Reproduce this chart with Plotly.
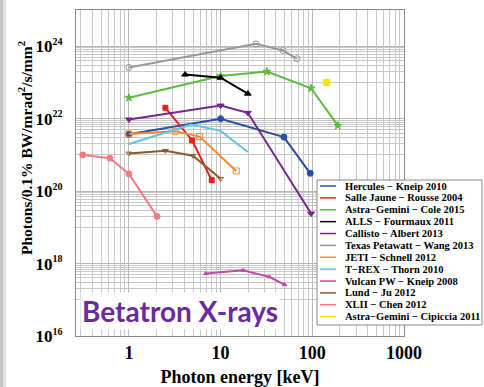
import plotly.graph_objects as go

# ---------------- data ----------------
names = [
    "Hercules \u2212 Kneip 2010",
    "Salle Jaune \u2212 Rousse 2004",
    "Astra\u2212Gemini \u2212 Cole 2015",
    "ALLS \u2212 Fourmaux 2011",
    "Callisto \u2212 Albert 2013",
    "Texas Petawatt \u2212 Wang 2013",
    "JETI \u2212 Schnell 2012",
    "T\u2212REX \u2212 Thorn 2010",
    "Vulcan PW \u2212 Kneip 2008",
    "Lund \u2212 Ju 2012",
    "XLII \u2212 Chen 2012",
    "Astra\u2212Gemini \u2212 Cipiccia 2011",
]
hercules_x = [1, 10, 49, 95]
hercules_y = [3.7e21, 1.0e22, 3.1e21, 3.1e20]
salle_x = [2.5, 4.9, 8.0]
salle_y = [2.0e22, 2.5e21, 2.0e20]
cole_x = [1, 10, 32, 97, 190]
cole_y = [3.8e22, 1.5e23, 2.0e23, 6.9e22, 6.4e21]
alls_x = [4.1, 10, 19.8]
alls_y = [1.65e23, 1.35e23, 4.9e22]
callisto_x = [1, 10, 19.8, 97]
callisto_y = [9.5e21, 2.3e22, 1.45e22, 2.4e19]
texas_x = [1, 24.4, 48, 68]
texas_y = [2.6e23, 1.16e24, 7.6e23, 4.5e23]
jeti_x = [1, 3.2, 5.9, 14.8]
jeti_y = [3.8e21, 4.5e21, 3.2e21, 3.6e20]
trex_x = [1, 4.8, 10, 19.8]
trex_y = [2.0e21, 6.9e21, 4.6e21, 1.2e21]
vulcan_x = [6.9, 17.5, 34, 50]
vulcan_y = [5.3e17, 6.5e17, 4.3e17, 2.6e17]
lund_x = [1, 2.5, 5.0, 10]
lund_y = [1.1e21, 1.3e21, 9.5e20, 2.2e20]
xlii_x = [0.314, 0.62, 1, 2.03]
xlii_y = [1.0e21, 8.1e20, 3.0e20, 2.0e19]
cipiccia_x = [144]
cipiccia_y = [1.0e23]

x_tickvals = [1, 10, 100, 1000]
x_ticktext = ["1", "10", "100", "1000"]
y_exps = [16, 18, 20, 22, 24]
x_title = "Photon energy [keV]"
y_title = "Photons/0.1% BW/mrad<sup>2</sup>/s/mm<sup>2</sup>"

# ---------------- styles ----------------
colors = ["#2b4ea3", "#ee1c1c", "#5dbb3f", "#000000", "#76278f", "#999999",
          "#f28a30", "#62c6dc", "#c04aa6", "#8a5a2c", "#f27b82", "#f5e600"]
symbols = ["circle", "square", "star", "triangle-up", "triangle-down", "circle-open",
           "square-open", "circle", "triangle-up", "triangle-down-open", "circle", "square"]
msizes = [6, 5, 6, 6, 6, 6, 6, 0, 4, 5, 6, 6]
series = [(hercules_x, hercules_y), (salle_x, salle_y), (cole_x, cole_y), (alls_x, alls_y),
          (callisto_x, callisto_y), (texas_x, texas_y), (jeti_x, jeti_y), (trex_x, trex_y),
          (vulcan_x, vulcan_y), (lund_x, lund_y), (xlii_x, xlii_y), (cipiccia_x, cipiccia_y)]

fig = go.Figure()
for (xs, ys), nm, c, s, ms in zip(series, names, colors, symbols, msizes):
    mode = "lines+markers" if len(xs) > 1 else "markers"
    if ms == 0:
        mode = "lines"
    fig.add_trace(go.Scatter(
        x=xs, y=ys, name=nm, mode=mode,
        line=dict(color=c, width=2),
        marker=dict(symbol=s, size=ms, color=c, line=dict(color=c, width=1)),
        showlegend=False))

# plot-area geometry (pixels)
W, H = 484, 387
L, R, T, B = 76, 404, 10, 336
pw, ph = R - L, B - T

def px(x):
    return (x - L) / pw

def py(y):
    return (B - y) / ph

serif = "Liberation Serif"
shapes = []
annotations = []

# custom legend
lx0, lx1, ly0, ly1 = 317, 482, 180, 325
shapes.append(dict(type="rect", xref="paper", yref="paper", x0=px(lx0), x1=px(lx1),
                   y0=py(ly1), y1=py(ly0), fillcolor="white",
                   line=dict(color="#888888", width=1), layer="above"))
row0, step = 186.0, 11.88
for i, (nm, c) in enumerate(zip(names, colors)):
    yy = row0 + i * step
    shapes.append(dict(type="line", xref="paper", yref="paper", x0=px(320), x1=px(336),
                       y0=py(yy), y1=py(yy), line=dict(color=c, width=1.5), layer="above"))
    annotations.append(dict(text="<b>" + nm + "</b>", xref="paper", yref="paper",
                            x=px(343), y=py(yy), xanchor="left", yanchor="middle",
                            showarrow=False, font=dict(family=serif, size=10.5, color="black")))

# left grey strip of the slide capture
shapes.append(dict(type="rect", xref="paper", yref="paper", x0=px(0), x1=px(3),
                   y0=py(H), y1=py(0), fillcolor="#c4c4c4", line=dict(width=0), layer="above"))
shapes.append(dict(type="rect", xref="paper", yref="paper", x0=px(3), x1=px(6),
                   y0=py(H), y1=py(0), fillcolor="#e2e2e2", line=dict(width=0), layer="above"))

# label
annotations.append(dict(text="<b>Betatron X-rays</b>", xref="paper", yref="paper",
                        x=px(180), y=py(311), xanchor="center", yanchor="middle",
                        showarrow=False, bgcolor="white",
                        font=dict(family="Lato", size=28, color="#6a2b9e")))

# y axis title
annotations.append(dict(text="<b>" + y_title + "</b>", xref="paper", yref="paper",
                        x=px(25), y=py(148), xanchor="center", yanchor="middle",
                        textangle=-90, showarrow=False,
                        font=dict(family=serif, size=15.5, color="black")))

y_minor = [k * 10.0 ** e for e in [15, 17, 19, 21, 23] for k in range(1, 10)]
x_minor = [k * 10.0 ** e for e in [-1, 0, 1, 2] for k in range(2, 10)]

fig.update_layout(
    width=W, height=H,
    margin=dict(l=L, r=W - R, t=T, b=H - B),
    paper_bgcolor="white", plot_bgcolor="white",
    shapes=shapes, annotations=annotations,
    xaxis=dict(type="log", range=[-0.577, 3.0], tickmode="array", automargin=False,
               tickvals=x_tickvals, ticktext=["<b>%s</b>" % t for t in x_ticktext],
               tickfont=dict(family=serif, size=18, color="black"),
               showgrid=True, gridcolor="#b8b8b8", gridwidth=1,
               minor=dict(tickmode="array", tickvals=x_minor, showgrid=True,
                          gridcolor="#c8c8c8", gridwidth=1, ticks=""),
               showline=True, linecolor="#8a8a8a", linewidth=1, mirror=True,
               ticks="", zeroline=False,
               title=dict(text="<b>" + x_title + "</b>", standoff=12,
                          font=dict(family=serif, size=18, color="black"))),
    yaxis=dict(type="log", range=[16, 25], tickmode="array", automargin=False,
               tickvals=[10.0 ** e for e in y_exps],
               ticktext=["<b>10<sup><span style='font-size:10px'>%d</span></sup></b>" % e
                         for e in y_exps],
               tickfont=dict(family=serif, size=17, color="black"),
               showgrid=True, gridcolor="#b8b8b8", gridwidth=1,
               minor=dict(tickmode="array", tickvals=y_minor, showgrid=True,
                          gridcolor="#c8c8c8", gridwidth=1, ticks=""),
               showline=True, linecolor="#8a8a8a", linewidth=1, mirror=True,
               ticks="", zeroline=False, ticklabelstandoff=9),
)

fig.write_html("out.html")
